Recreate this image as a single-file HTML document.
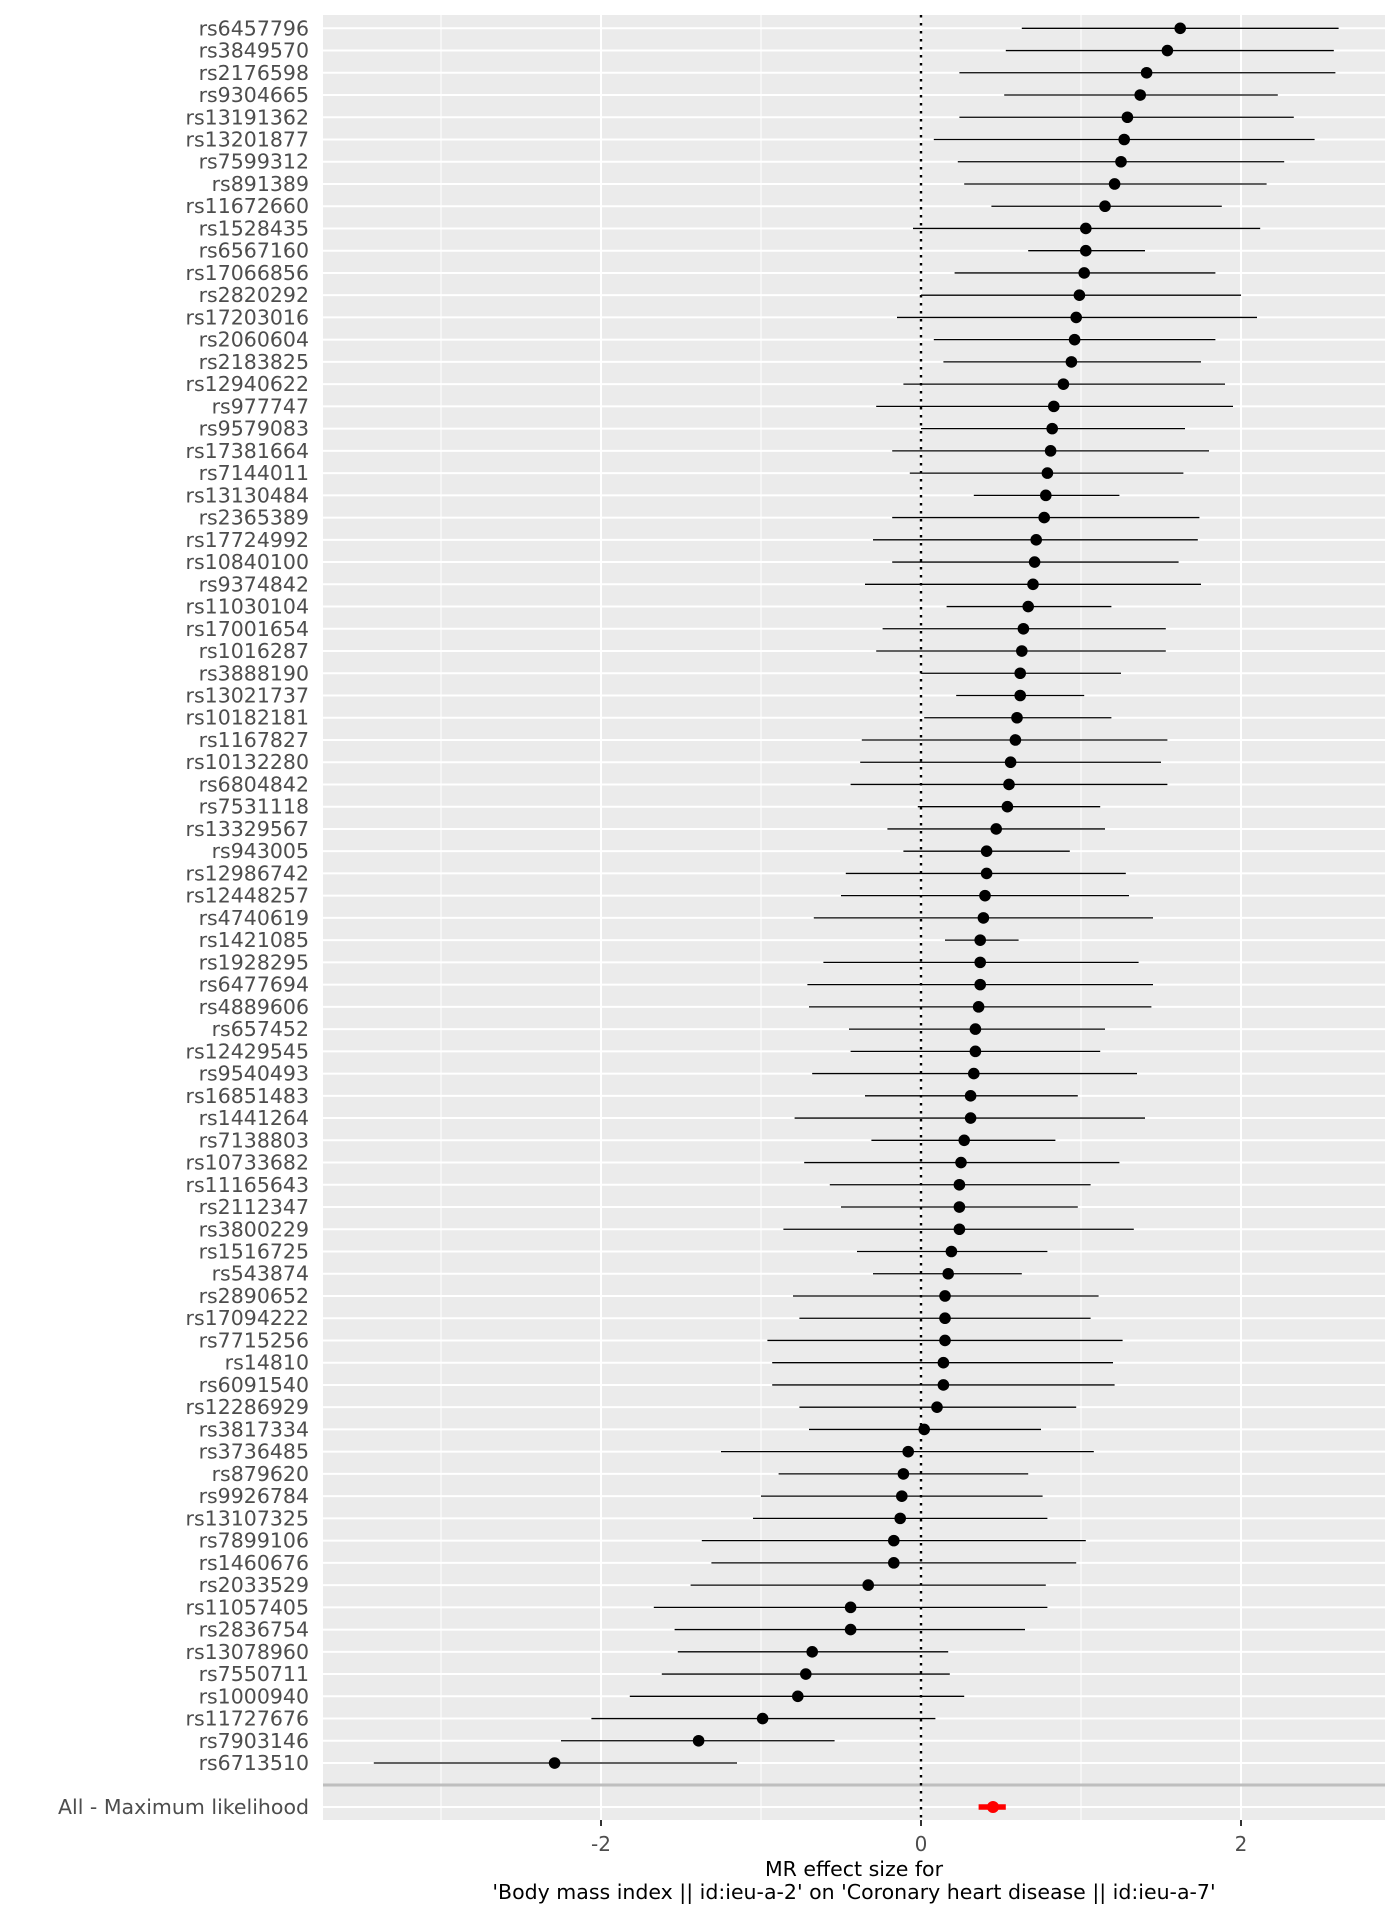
<!DOCTYPE html>
<html><head><meta charset="utf-8"><style>
html,body{margin:0;padding:0;background:#fff;}
svg{display:block;font-family:"DejaVu Sans","Liberation Sans",sans-serif;}
</style></head><body>
<svg id="chart" width="1400" height="1920" xmlns="http://www.w3.org/2000/svg">
<rect x="323" y="15" width="1062" height="1805" fill="#ebebeb"/>
<g id="grid"></g><g id="marks"></g><g id="labels"></g>
<text x="854" y="1876" text-anchor="middle" font-size="20.5" fill="#000">MR effect size for</text>
<text x="854" y="1899" text-anchor="middle" font-size="20.5" fill="#000">'Body mass index || id:ieu-a-2' on 'Coronary heart disease || id:ieu-a-7'</text>
</svg>
<script>
const snps = ["rs6457796","rs3849570","rs2176598","rs9304665","rs13191362","rs13201877","rs7599312","rs891389","rs11672660","rs1528435","rs6567160","rs17066856","rs2820292","rs17203016","rs2060604","rs2183825","rs12940622","rs977747","rs9579083","rs17381664","rs7144011","rs13130484","rs2365389","rs17724992","rs10840100","rs9374842","rs11030104","rs17001654","rs1016287","rs3888190","rs13021737","rs10182181","rs1167827","rs10132280","rs6804842","rs7531118","rs13329567","rs943005","rs12986742","rs12448257","rs4740619","rs1421085","rs1928295","rs6477694","rs4889606","rs657452","rs12429545","rs9540493","rs16851483","rs1441264","rs7138803","rs10733682","rs11165643","rs2112347","rs3800229","rs1516725","rs543874","rs2890652","rs17094222","rs7715256","rs14810","rs6091540","rs12286929","rs3817334","rs3736485","rs879620","rs9926784","rs13107325","rs7899106","rs1460676","rs2033529","rs11057405","rs2836754","rs13078960","rs7550711","rs1000940","rs11727676","rs7903146","rs6713510"];
const effects = [1.62,1.54,1.41,1.37,1.29,1.27,1.25,1.21,1.15,1.03,1.03,1.02,0.99,0.97,0.96,0.94,0.89,0.83,0.82,0.81,0.79,0.78,0.77,0.72,0.71,0.70,0.67,0.64,0.63,0.62,0.62,0.60,0.59,0.56,0.55,0.54,0.47,0.41,0.41,0.40,0.39,0.37,0.37,0.37,0.36,0.34,0.34,0.33,0.31,0.31,0.27,0.25,0.24,0.24,0.24,0.19,0.17,0.15,0.15,0.15,0.14,0.14,0.10,0.02,-0.08,-0.11,-0.12,-0.13,-0.17,-0.17,-0.33,-0.44,-0.44,-0.68,-0.72,-0.77,-0.99,-1.39,-2.29];
const lower = [0.63,0.53,0.24,0.52,0.24,0.08,0.23,0.27,0.44,-0.05,0.67,0.21,0.0,-0.15,0.08,0.14,-0.11,-0.28,0.0,-0.18,-0.07,0.33,-0.18,-0.30,-0.18,-0.35,0.16,-0.24,-0.28,0.0,0.22,0.02,-0.37,-0.38,-0.44,-0.02,-0.21,-0.11,-0.47,-0.50,-0.67,0.15,-0.61,-0.71,-0.70,-0.45,-0.44,-0.68,-0.35,-0.79,-0.31,-0.73,-0.57,-0.50,-0.86,-0.40,-0.30,-0.80,-0.76,-0.96,-0.93,-0.93,-0.76,-0.70,-1.25,-0.89,-1.00,-1.05,-1.37,-1.31,-1.44,-1.67,-1.54,-1.52,-1.62,-1.82,-2.06,-2.25,-3.42];
const upper = [2.61,2.58,2.59,2.23,2.33,2.46,2.27,2.16,1.88,2.12,1.40,1.84,2.0,2.10,1.84,1.75,1.90,1.95,1.65,1.80,1.64,1.24,1.74,1.73,1.61,1.75,1.19,1.53,1.53,1.25,1.02,1.19,1.54,1.50,1.54,1.12,1.15,0.93,1.28,1.30,1.45,0.61,1.36,1.45,1.44,1.15,1.12,1.35,0.98,1.40,0.84,1.24,1.06,0.98,1.33,0.79,0.63,1.11,1.06,1.26,1.20,1.21,0.97,0.75,1.08,0.67,0.76,0.79,1.03,0.97,0.78,0.79,0.65,0.17,0.18,0.27,0.09,-0.54,-1.15];
const summaryLabel = ["All - Maximum likelihood"];
const summaryEffect = [0.45];
const summaryLower = [0.36];
const summaryUpper = [0.53];
const xTicks = [-2,0,2];
const xMinor = [-3,-1,1];

const NS="http://www.w3.org/2000/svg";
const X = v => 921 + 160*v;
const Y = i => 28.3 + 22.24*i;
const ySum = 1807;
function mk(parent, tag, attrs){const e=document.createElementNS(NS,tag);for(const k in attrs)e.setAttribute(k,attrs[k]);document.getElementById(parent).appendChild(e);return e;}
xMinor.forEach(v=>{const l=mk('grid','line',{x1:X(v),x2:X(v),y1:15,y2:1820,stroke:'#fff','stroke-width':1});

});
xTicks.forEach(v=>{const l=mk('grid','line',{x1:X(v),x2:X(v),y1:15,y2:1820,stroke:'#fff','stroke-width':2});


const t=mk('grid','line',{x1:X(v),x2:X(v),y1:1820,y2:1826,stroke:'#333','stroke-width':2});


const tl=mk('labels','text',{x:X(v),y:1851,'text-anchor':'middle','font-size':20,fill:'#4d4d4d'});tl.textContent=(v<0?'-':'')+Math.abs(v);

});
snps.forEach((s,i)=>{const l=mk('grid','line',{x1:323,x2:1385,y1:Y(i),y2:Y(i),stroke:'#fff','stroke-width':2});

});
{const l=mk('grid','line',{x1:323,x2:1385,y1:ySum,y2:ySum,stroke:'#fff','stroke-width':2});

}
{const l=mk('grid','line',{x1:323,x2:1385,y1:1785,y2:1785,stroke:'#bebebe','stroke-width':3});

}
{const l=mk('grid','line',{x1:X(0),x2:X(0),y1:15,y2:1820,stroke:'#000','stroke-width':2.4,'stroke-dasharray':'2.5,5.5'});

}
snps.forEach((s,i)=>{
const l=mk('marks','line',{x1:X(lower[i]),x2:X(upper[i]),y1:Y(i),y2:Y(i),stroke:'#000','stroke-width':1.3});


const c=mk('marks','circle',{cx:X(effects[i]),cy:Y(i),r:5.8,fill:'#000'});


const t=mk('labels','text',{x:309,y:Y(i)+7,'text-anchor':'end','font-size':20.5,fill:'#4d4d4d'});t.textContent=s;


});
summaryLabel.forEach((s,i)=>{
const l=mk('marks','line',{x1:X(summaryLower[i]),x2:X(summaryUpper[i]),y1:ySum,y2:ySum,stroke:'#f00','stroke-width':5.5});


const c=mk('marks','circle',{cx:X(summaryEffect[i]),cy:ySum,r:6,fill:'#f00'});


const t=mk('labels','text',{x:309,y:ySum+7,'text-anchor':'end','font-size':20.5,fill:'#4d4d4d'});t.textContent=s;


});
</script>
</body></html>
